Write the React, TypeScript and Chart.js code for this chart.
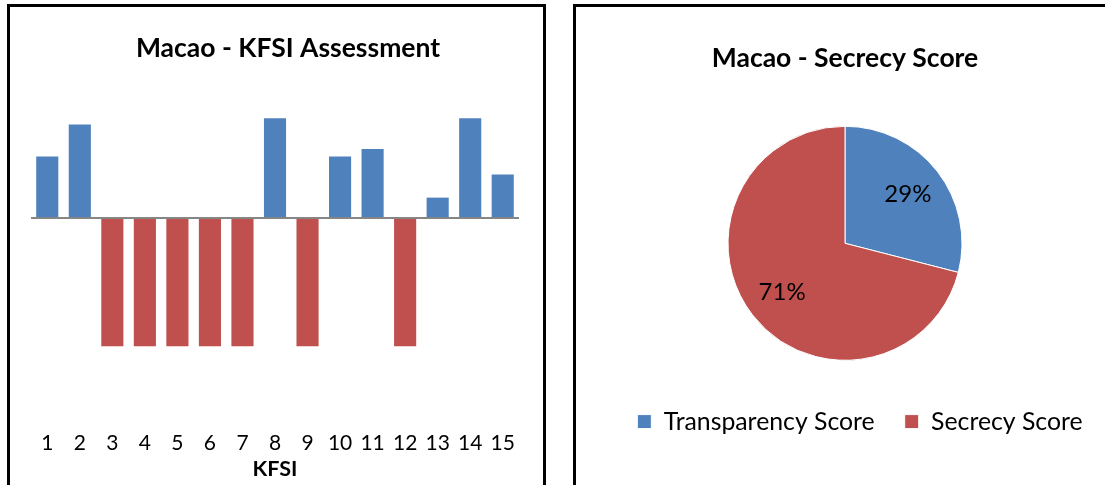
import React, { useEffect, useRef } from "react";
import { Chart, registerables } from "chart.js";

Chart.register(...registerables);

// ---- data ----
const kfsiLabels = ["1", "2", "3", "4", "5", "6", "7", "8", "9", "10", "11", "12", "13", "14", "15"];
const kfsiValues = [0.48, 0.73, -1, -1, -1, -1, -1, 0.78, -1, 0.48, 0.54, -1, 0.16, 0.78, 0.34];
const pieLabels = ["Transparency Score", "Secrecy Score"];
const pieValues = [29, 71];
const barTitle = "Macao - KFSI Assessment";
const pieTitle = "Macao - Secrecy Score";
const xAxisTitle = "KFSI";

const BLUE = "#4F81BD";
const RED = "#C0504D";
const FAMILY = "Lato, 'Open Sans', sans-serif";

const pieLabelPlugin = {
  id: "pieLabels",
  afterDatasetsDraw(chart: any) {
    const ctx = chart.ctx;
    const meta = chart.getDatasetMeta(0);
    const vals = chart.data.datasets[0].data as number[];
    const total = vals.reduce((a, b) => a + b, 0);
    meta.data.forEach((arc: any, i: number) => {
      const { x, y, startAngle, endAngle, outerRadius } = arc.getProps(
        ["x", "y", "startAngle", "endAngle", "outerRadius"],
        true
      );
      const mid = (startAngle + endAngle) / 2;
      const r = outerRadius * 0.68;
      ctx.save();
      ctx.fillStyle = "#000";
      ctx.font = `24px ${FAMILY}`;
      ctx.textAlign = "center";
      ctx.textBaseline = "middle";
      ctx.fillText(Math.round((vals[i] / total) * 100) + "%", x + Math.cos(mid) * r, y + Math.sin(mid) * r);
      ctx.restore();
    });
  },
};

const legendShiftPlugin = {
  id: "legendShift",
  afterLayout(chart: any) {
    const l = chart.legend;
    if (l) {
      l.left += 15;
      l.right += 15;
    }
  },
};

function BarChart() {
  const ref = useRef<HTMLCanvasElement>(null);
  useEffect(() => {
    const chart = new Chart(ref.current!, {
      type: "bar",
      data: {
        labels: kfsiLabels,
        datasets: [
          {
            data: kfsiValues,
            backgroundColor: kfsiValues.map((v) => (v >= 0 ? BLUE : RED)),
            borderWidth: 0,
            categoryPercentage: 1,
            barPercentage: 0.68,
          },
        ],
      },
      options: {
        animation: false,
        responsive: false,
        maintainAspectRatio: false,
        layout: { padding: { left: 21, right: 0, top: 0, bottom: 0 } },
        plugins: {
          legend: { display: false },
          tooltip: { enabled: false },
          title: {
            display: true,
            text: barTitle,
            color: "#000",
            font: { family: FAMILY, size: 26.5, weight: "bold", lineHeight: 1.2 },
            padding: { top: 25.6, bottom: 25.6 },
          },
        },
        scales: {
          x: {
            grid: { display: false, drawTicks: false },
            border: { display: false },
            ticks: {
              color: "#000",
              font: { family: FAMILY, size: 21 },
              padding: 7.4,
              maxRotation: 0,
              autoSkip: false,
            },
            title: {
              display: true,
              text: xAxisTitle,
              color: "#000",
              font: { family: FAMILY, size: 21.5, weight: "bold", lineHeight: 0.6 },
              padding: { top: 0, bottom: 0 },
            },
          },
          y: {
            position: "right",
            min: -1.6,
            max: 1,
            ticks: { display: false },
            border: { display: false },
            grid: { color: "#868686", lineWidth: 2, drawTicks: false },
            afterBuildTicks: (s: any) => {
              s.ticks = [{ value: 0 }];
            },
            afterFit: (s: any) => {
              s.width = 26;
            },
            z: 1,
          } as any,
        },
      },
    });
    return () => chart.destroy();
  }, []);
  return (
    <canvas
      ref={ref}
      width={535}
      height={469}
      style={{ position: "absolute", left: 10, top: 7, width: 535, height: 469 }}
    />
  );
}

function PieChart() {
  const ref = useRef<HTMLCanvasElement>(null);
  useEffect(() => {
    const chart = new Chart(ref.current!, {
      type: "pie",
      data: {
        labels: pieLabels,
        datasets: [
          {
            data: pieValues,
            backgroundColor: [BLUE, RED],
            borderColor: "#ffffff",
            borderWidth: 1,
            radius: 117,
          } as any,
        ],
      },
      options: {
        animation: false,
        responsive: false,
        maintainAspectRatio: false,
        layout: { padding: { left: 8, right: 0, top: 0, bottom: 0 } },
        plugins: {
          tooltip: { enabled: false },
          title: {
            display: true,
            text: pieTitle,
            color: "#000",
            font: { family: FAMILY, size: 26.5, weight: "bold", lineHeight: 1.2 },
            padding: { top: 35.6, bottom: 33 },
          },
          legend: {
            position: "bottom",
            labels: {
              boxWidth: 14,
              boxHeight: 14,
              padding: 30,
              color: "#000",
              font: { family: FAMILY, size: 24.8 },
            },
          },
        },
      },
      plugins: [pieLabelPlugin, legendShiftPlugin],
    });
    return () => chart.destroy();
  }, []);
  return (
    <canvas
      ref={ref}
      width={528}
      height={437}
      style={{ position: "absolute", left: 577, top: 7, width: 528, height: 437 }}
    />
  );
}

export default function App() {
  const box: React.CSSProperties = {
    position: "absolute",
    top: 4,
    height: 520,
    border: "3px solid #000",
    boxSizing: "border-box",
    background: "transparent",
  };
  return (
    <div style={{ position: "absolute", left: 0, top: 0, width: 1105, height: 485, overflow: "hidden", background: "#fff" }}>
      <div style={{ ...box, left: 7, width: 539 }} />
      <div style={{ ...box, left: 573, width: 540 }} />
      <BarChart />
      <PieChart />
    </div>
  );
}
